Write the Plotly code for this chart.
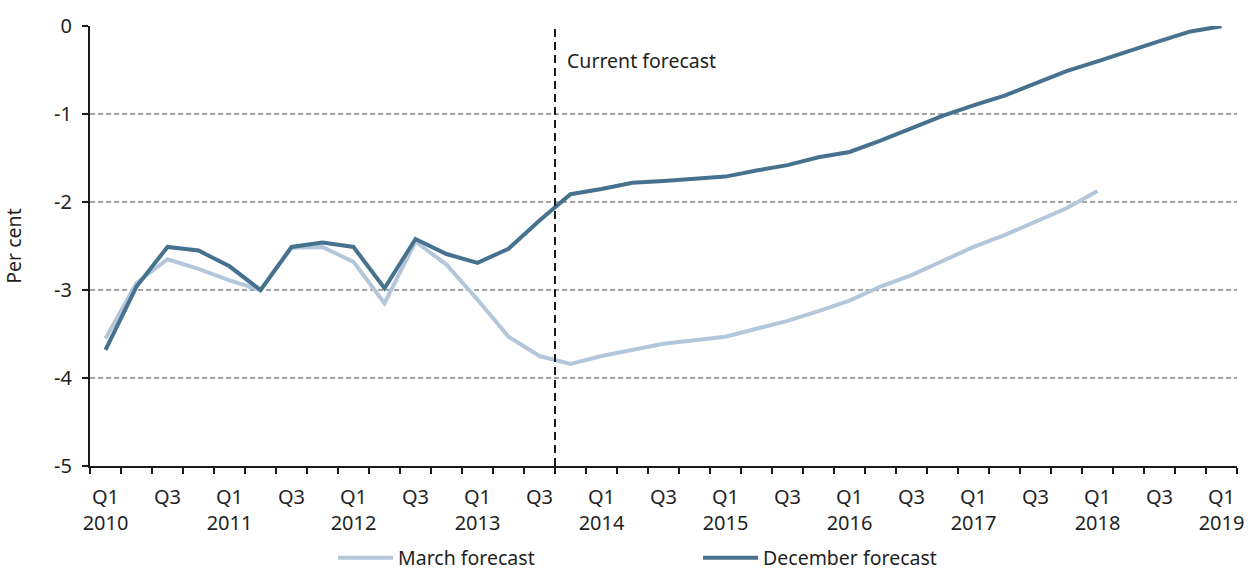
import plotly.graph_objects as go

years = list(range(2010, 2020))
quarters = [f"{y} Q{q}" for y in years for q in (1, 2, 3, 4)][:37]

tick_text = []
for i, c in enumerate(quarters):
    y, q = c.split(" ")
    if q == "Q1":
        tick_text.append(f"Q1<br>{y}")
    elif q == "Q3":
        tick_text.append("Q3")
    else:
        tick_text.append("")

march_forecast = [-3.55, -2.92, -2.65, -2.76, -2.89, -3.00, -2.52, -2.51, -2.68, -3.15,
                  -2.45, -2.71, -3.11, -3.53, -3.75, -3.84, -3.75, -3.68, -3.61, -3.57,
                  -3.53, -3.44, -3.35, -3.24, -3.12, -2.96, -2.83, -2.67, -2.51, -2.375,
                  -2.22, -2.07, -1.875]
december_forecast = [-3.68, -2.96, -2.51, -2.55, -2.73, -3.00, -2.51, -2.46, -2.51, -2.98,
                     -2.42, -2.59, -2.69, -2.53, -2.21, -1.91, -1.85, -1.78, -1.76, -1.74,
                     -1.71, -1.64, -1.58, -1.49, -1.43, -1.30, -1.16, -1.02, -0.90, -0.79,
                     -0.65, -0.51, -0.40, -0.28, -0.17, -0.06, 0.0]

y_ticks = [0, -1, -2, -3, -4, -5]
y_tick_text = ["0", "-1", "-2", "-3", "-4", "-5"]
forecast_start = 14.5  # boundary between 2013 Q3 and 2013 Q4

FONT = "Noto Sans"
FS = 19.5
TICK_FS = 20
TXT = "#1f1f1f"
LIGHT = "#b4c7da"
DARK = "#46728f"

fig = go.Figure()
fig.add_trace(go.Scatter(x=quarters[:len(march_forecast)], y=march_forecast, mode="lines",
                         name="March forecast", line=dict(color=LIGHT, width=4)))
fig.add_trace(go.Scatter(x=quarters, y=december_forecast, mode="lines",
                         name="December forecast", line=dict(color=DARK, width=4),
                         cliponaxis=False))

fig.add_shape(type="line", xref="x", yref="y", x0=forecast_start, x1=forecast_start,
              y0=-5, y1=0, line=dict(color="#1a1a1a", width=2, dash="8px,5px"))
fig.add_annotation(x=forecast_start, y=-0.39, xref="x", yref="y", text="Current forecast",
                   showarrow=False, xanchor="left", xshift=10,
                   font=dict(family=FONT, size=FS, color=TXT))

fig.update_layout(
    width=1249, height=572,
    margin=dict(l=90, r=12, t=26, b=106, autoexpand=False),
    plot_bgcolor="white", paper_bgcolor="white",
    font=dict(family=FONT, size=FS, color=TXT),
    showlegend=True,
    legend=dict(orientation="h", x=0.2119, xanchor="left", y=-0.2095, yanchor="middle",
                entrywidth=295, entrywidthmode="pixels", itemwidth=55,
                font=dict(family=FONT, size=FS, color=TXT), bgcolor="rgba(0,0,0,0)"),
)
fig.update_xaxes(
    type="category", categoryorder="array", categoryarray=quarters,
    range=[-0.5, len(quarters) - 0.5], automargin=False,
    tickmode="array", tickvals=quarters, ticktext=tick_text, tickangle=0,
    tickson="boundaries", ticks="outside", ticklen=6, tickwidth=1.5, tickcolor="#1a1a1a",
    showline=True, linecolor="#1a1a1a", linewidth=2, showgrid=False,
    tickfont=dict(family=FONT, size=TICK_FS, color=TXT), ticklabelstandoff=12,
)
fig.update_yaxes(
    range=[-5, 0.002], tickmode="array", tickvals=y_ticks, ticktext=y_tick_text,
    ticks="outside", ticklen=6, tickwidth=1.5, tickcolor="#1a1a1a", automargin=False,
    showline=True, linecolor="#1a1a1a", linewidth=2,
    showgrid=True, gridcolor="#a3a3a3", gridwidth=1.5, griddash="5px,3px",
    zeroline=False, ticklabelstandoff=6,
    title=dict(text="Per cent", font=dict(family=FONT, size=FS, color=TXT), standoff=33),
    tickfont=dict(family=FONT, size=TICK_FS, color=TXT),
)

fig.write_html("out.html", config={"displayModeBar": False},
               post_script="document.body.style.margin='0';document.body.style.overflow='hidden';")
